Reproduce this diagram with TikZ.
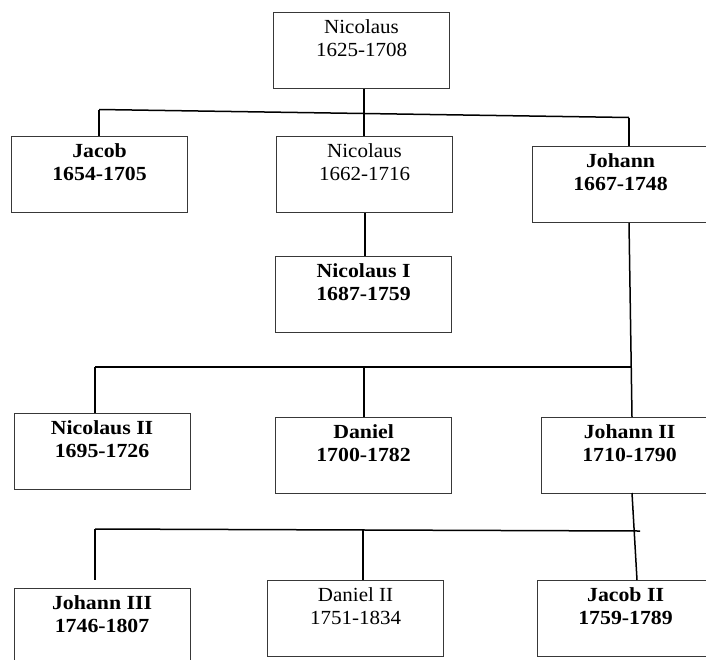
\documentclass[tikz,border=0pt]{standalone}
\usepackage{fontspec}
\setmainfont{Liberation Serif}[FakeStretch=1.05,BoldFeatures={FakeStretch=1.09}]
\begin{document}
\begin{tikzpicture}[x=1pt,y=-1pt,
  box/.style={draw=black!78, line width=1.1pt, minimum width=176pt, minimum height=76pt, anchor=north west, inner sep=0pt},
  txt/.style={align=center, inner sep=0pt, font=\fontsize{20}{22.7}\selectfont, anchor=north, yshift=-7.5pt},
  link/.style={line width=1.5pt, black},
  thickbar/.style={line width=2.2pt, black}]
\useasboundingbox (0,0) rectangle (706,659);
\clip (0,0) rectangle (706,659);

% boxes
\node[box] (b0) at (273,12) {};
\node[box] (jacob) at (11,136) {};
\node[box] (nic2) at (276,136) {};
\node[box] (johann) at (532,146) {};
\node[box] (nicI) at (275,256) {};
\node[box] (nicII) at (13.5,413) {};
\node[box] (daniel) at (275,417) {};
\node[box] (johannII) at (541,417) {};
\node[box] (johannIII) at (13.5,588) {};
\node[box] (danielII) at (267,580) {};
\node[box] (jacobII) at (537,580) {};

% texts
\node[txt] (t0) at (b0.north) {Nicolaus\\1625-1708};
\node[txt] (t1) at (jacob.north) {\bfseries Jacob\\\bfseries 1654-1705};
\node[txt] (t2) at (nic2.north) {Nicolaus\\1662-1716};
\node[txt] (t3) at (johann.north) {\bfseries Johann\\\bfseries 1667-1748};
\node[txt] (t4) at (nicI.north) {\bfseries Nicolaus I\\\bfseries 1687-1759};
\node[txt] (t5) at (nicII.north) {\bfseries Nicolaus II\\\bfseries 1695-1726};
\node[txt] (t6) at (daniel.north) {\bfseries Daniel\\\bfseries 1700-1782};
\node[txt] (t7) at (johannII.north) {\bfseries Johann II\\\bfseries 1710-1790};
\node[txt] (t8) at (johannIII.north) {\bfseries Johann III\\\bfseries 1746-1807};
\node[txt] (t9) at (danielII.north) {Daniel II\\1751-1834};
\node[txt] (t10) at (jacobII.north) {\bfseries Jacob II\\\bfseries 1759-1789};

% bar 1
\coordinate (bar1L) at (99,109.5);
\coordinate (bar1R) at (629,117.5);
\draw[link] (bar1L) -- (bar1R);
\draw[link] (b0.south -| 364,0) -- (nic2.north -| 364,0);
\draw[link] (bar1L) -- (jacob.north -| bar1L);
\draw[link] (bar1R) -- (johann.north -| bar1R);

% Nicolaus -> Nicolaus I
\draw[link] (nic2.south -| 365,0) -- (nicI.north -| 365,0);

% bar 2
\coordinate (bar2L) at (95,367);
\coordinate (bar2R) at (632,367);
\coordinate (johannBot) at (629,223);
\coordinate (johannIITop) at (632,417);
\draw[link] (johannBot) -- (johannIITop);
\draw[thickbar] (bar2L) -- (bar2R);
\draw[link] (bar2L) -- (nicII.north -| bar2L);
\draw[link] (364,366) -- (daniel.north -| 364,0);

% bar 3
\coordinate (bar3L) at (95,529);
\coordinate (bar3R) at (640,531);
\coordinate (johannIIBot) at (632,493);
\coordinate (jacobIITop) at (637,580);
\draw[link] (bar3L) -- (bar3R);
\draw[link] (johannIIBot) -- (jacobIITop);
\coordinate (j3end) at (95,580);
\draw[link] (bar3L) -- (j3end);
\draw[link] (363,529.5) -- (danielII.north -| 363,0);
\end{tikzpicture}
\end{document}
